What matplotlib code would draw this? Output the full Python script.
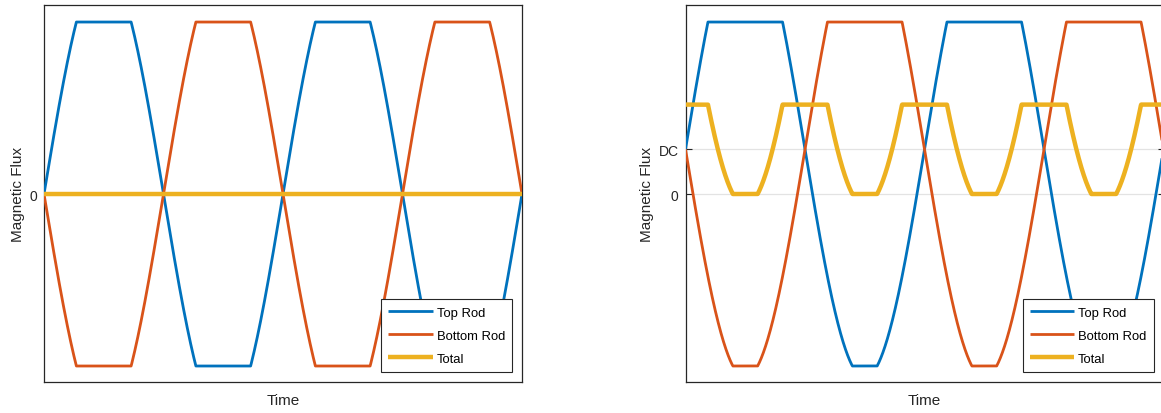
import numpy as np
import matplotlib
matplotlib.use("Agg")
import matplotlib.pyplot as plt

plt.rcParams['font.family'] = ['Liberation Sans', 'DejaVu Sans']

# waveform parameters (saturation level = 1)
n_periods = 2          # two full cycles across the time axis
sat_level = 1.0        # flat tops/bottoms of the rod flux
drive_amp = 1.33       # amplitude of the unclipped drive
dc_left = 0.0          # left panel: no bias
dc_right = 0.26        # right panel: DC bias
y_limits = (-1.093, 1.099)

series_names = ['Top Rod', 'Bottom Rod', 'Total']
series_colors = ['#0072BD', '#D95319', '#EDB120']
series_widths = [2.0, 2.0, 3.2]

t = np.linspace(0, n_periods, 4001)


def rods(dc):
    drive = drive_amp * np.sin(2 * np.pi * t)
    top = np.clip(dc + drive, -sat_level, sat_level)
    bottom = np.clip(dc - drive, -sat_level, sat_level)
    return top, bottom, top + bottom


fig = plt.figure(figsize=(11.61, 4.14), dpi=100)
W, H = 1161, 414
ax_l = fig.add_axes([44 / W, (H - 383) / H, 478 / W, 377 / H])
ax_r = fig.add_axes([685.5 / W, (H - 383) / H, 478 / W, 377 / H])

for ax, dc in [(ax_l, dc_left), (ax_r, dc_right)]:
    curves = rods(dc)
    for y, name, c, lw in zip(curves, series_names, series_colors, series_widths):
        ax.plot(t, y, color=c, lw=lw, label=name, solid_capstyle='butt', zorder=3)
    ax.set_xlim(0, n_periods)
    ax.set_ylim(*y_limits)
    ax.set_xticks([])
    if dc > 0:
        ax.set_yticks([0, dc])
        ax.set_yticklabels(['0', 'DC'])
    else:
        ax.set_yticks([0])
        ax.set_yticklabels(['0'])
    ax.grid(True, axis='y', color='#e3e3e3', lw=0.9, zorder=0)
    ax.tick_params(axis='y', direction='in', length=4, width=0.8, color='#262626',
                   labelsize=10, labelcolor='#262626', right=True, pad=5)
    for s in ax.spines.values():
        s.set_color('#262626')
        s.set_linewidth(0.9)
    ax.set_xlabel('Time', fontsize=11, color='#262626', labelpad=8)
    ax.set_ylabel('Magnetic Flux', fontsize=11, color='#262626', labelpad=3)
    leg = ax.legend(loc='lower right', fontsize=9.4, frameon=True, fancybox=False,
                    edgecolor='#262626', framealpha=1, handlelength=3.4,
                    handletextpad=0.3, borderpad=0.55, labelspacing=0.85,
                    borderaxespad=0.75)
    leg.get_frame().set_linewidth(0.8)

fig.savefig('out.png', dpi=100)
